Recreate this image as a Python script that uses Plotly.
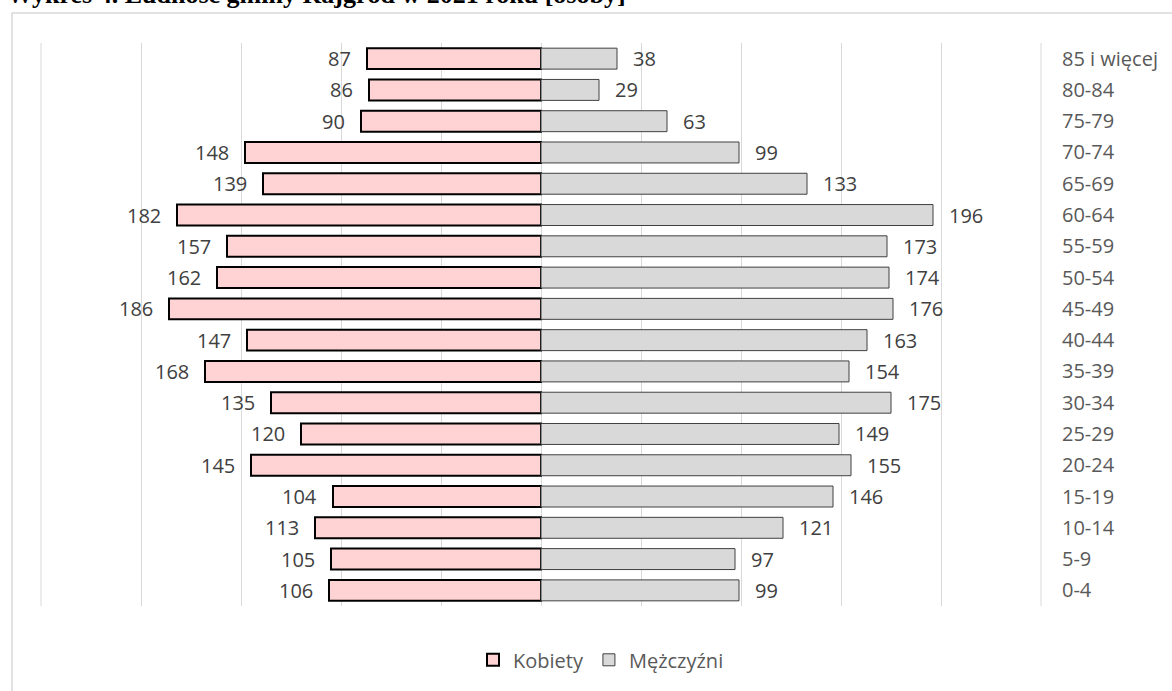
import plotly.graph_objects as go

categories = ["0-4", "5-9", "10-14", "15-19", "20-24", "25-29", "30-34", "35-39",
              "40-44", "45-49", "50-54", "55-59", "60-64", "65-69", "70-74",
              "75-79", "80-84", "85 i więcej"]
kobiety = [106, 105, 113, 104, 145, 120, 135, 168, 147, 186, 162, 157, 182, 139, 148, 90, 86, 87]
mezczyzni = [99, 97, 121, 146, 155, 149, 175, 154, 163, 176, 174, 173, 196, 133, 99, 63, 29, 38]

W, H = 1172, 691
# plot area in page pixels: x 41..1041, y 43..608
L, T = 41, 43
R = W - 1041
B = H - 608
pw, ph = W - L - R, H - T - B


def px_x(p):
    return (p - L) / pw


def px_y(p):
    return (H - B - p) / ph


FONT = "Open Sans"
fig = go.Figure()
fig.add_trace(go.Bar(
    y=categories, x=[-v for v in kobiety], orientation="h", name="Kobiety",
    marker=dict(color="#FFD3D3", line=dict(color="#000000", width=2)),
    hoverinfo="skip",
))
fig.add_trace(go.Bar(
    y=categories, x=mezczyzni, orientation="h", name="Mężczyźni",
    marker=dict(color="#D9D9D9", line=dict(color="#404040", width=1)),
    hoverinfo="skip",
))

annotations = []
for c, v in zip(categories, kobiety):
    annotations.append(dict(x=-v, y=c, xref="x", yref="y", text=str(v), showarrow=False,
                            xanchor="right", xshift=-14,
                            font=dict(family=FONT, size=20, color="#404040")))
for c, v in zip(categories, mezczyzni):
    annotations.append(dict(x=v, y=c, xref="x", yref="y", text=str(v), showarrow=False,
                            xanchor="left", xshift=14,
                            font=dict(family=FONT, size=20, color="#404040")))
annotations.append(dict(x=px_x(5), y=px_y(11), xref="paper", yref="paper",
                        text="<b>Wykres 4. Ludność gminy Rajgród w 2021 roku [osoby]</b>",
                        showarrow=False, xanchor="left", yanchor="bottom",
                        font=dict(family="Liberation Serif", size=26, color="#000000")))

fig.update_layout(
    width=W, height=H,
    margin=dict(l=L, r=R, t=T, b=B),
    paper_bgcolor="#FFFFFF", plot_bgcolor="#FFFFFF",
    barmode="relative", bargap=0.33,
    font=dict(family=FONT, size=20, color="#595959"),
    xaxis=dict(range=[-250, 250], tick0=-250, dtick=50, showticklabels=False,
               showgrid=True, gridcolor="#D9D9D9", gridwidth=1,
               zeroline=True, zerolinecolor="#D9D9D9", zerolinewidth=1,
               showline=False, fixedrange=True),
    yaxis=dict(side="right", type="category", categoryorder="array", categoryarray=categories,
               showgrid=False, zeroline=False, showline=False, ticks="",
               ticklabelstandoff=20,
               tickfont=dict(family=FONT, size=20, color="#595959"), fixedrange=True),
    legend=dict(orientation="h", x=px_x(601), y=px_y(662), xanchor="center", yanchor="middle",
                font=dict(family=FONT, size=20, color="#595959"), traceorder="normal",
                itemwidth=30),
    showlegend=True,
    annotations=annotations,
    shapes=[
        dict(type="rect", xref="paper", yref="paper",
             x0=px_x(12), x1=px_x(1200), y0=px_y(720), y1=px_y(13),
             line=dict(color="#D9D9D9", width=1.5), fillcolor="rgba(0,0,0,0)", layer="below"),
        dict(type="line", xref="paper", yref="paper",
             x0=px_x(41), x1=px_x(41), y0=0, y1=1,
             line=dict(color="#D9D9D9", width=1), layer="below"),
        dict(type="line", xref="paper", yref="paper",
             x0=px_x(1041), x1=px_x(1041), y0=0, y1=1,
             line=dict(color="#D9D9D9", width=1), layer="below"),
    ],
)

fig.write_html("out.html", config={"displayModeBar": False},
               post_script="document.body.style.margin='0px';")
